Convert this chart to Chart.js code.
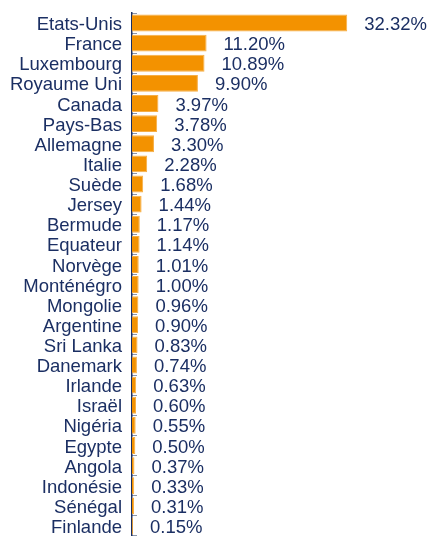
<!DOCTYPE html>
<html>
<head>
<meta charset="utf-8">
<script src="https://cdn.jsdelivr.net/npm/chart.js@4/dist/chart.umd.min.js"></script>
<style>
html,body{margin:0;padding:0;background:#fff;}
#wrap{width:429px;height:536px;position:relative;}
</style>
</head>
<body>
<div id="wrap"><canvas id="c" width="429" height="536"></canvas></div>
<script>
const categories = ["Etats-Unis","France","Luxembourg","Royaume Uni","Canada","Pays-Bas","Allemagne","Italie","Suède","Jersey","Bermude","Equateur","Norvège","Monténégro","Mongolie","Argentine","Sri Lanka","Danemark","Irlande","Israël","Nigéria","Egypte","Angola","Indonésie","Sénégal","Finlande"];
const values = [32.32,11.20,10.89,9.90,3.97,3.78,3.30,2.28,1.68,1.44,1.17,1.14,1.01,1.00,0.96,0.90,0.83,0.74,0.63,0.60,0.55,0.50,0.37,0.33,0.31,0.15];

const navy = '#1B2F63';
const FONT = '"Liberation Sans", Arial, sans-serif';
const FSIZE = 18.5;

const valueLabels = {
  id: 'valueLabels',
  afterDatasetsDraw(chart) {
    const ctx = chart.ctx;
    const meta = chart.getDatasetMeta(0);
    ctx.save();
    ctx.font = FSIZE + 'px ' + FONT;
    ctx.fillStyle = navy;
    ctx.textAlign = 'left';
    ctx.textBaseline = 'middle';
    meta.data.forEach((bar, i) => {
      ctx.fillText(values[i].toFixed(2) + '%', bar.x + 17, bar.y + 2);
    });
    ctx.restore();
  }
};

new Chart(document.getElementById('c'), {
  type: 'bar',
  data: {
    labels: categories,
    datasets: [{
      data: values,
      backgroundColor: '#F39200',
      borderColor: '#F6AE45',
      borderWidth: {top:1,right:1,bottom:1,left:0},
      borderSkipped: 'start',
      barPercentage: 0.84,
      categoryPercentage: 1.0
    }]
  },
  options: {
    indexAxis: 'y',
    responsive: false,
    animation: false,
    devicePixelRatio: 1,
    layout: { padding: { top: 13, right: 0, bottom: 0, left: 0 } },
    plugins: { legend: { display: false }, tooltip: { enabled: false } },
    scales: {
      x: {
        display: false,
        min: 0,
        max: 44.6
      },
      y: {
        position: 'left',
        afterFit(scale) { scale.width = 132; scale.paddingTop = 0; scale.paddingBottom = 0; },
        border: { display: true, color: navy, width: 1.5 },
        grid: {
          display: true,
          drawOnChartArea: false,
          drawTicks: true,
          tickLength: -5,
          color: '#8C96AA',
          offset: true
        },
        ticks: {
          color: navy,
          font: { family: FONT, size: FSIZE },
          padding: 15,
          labelOffset: 2,
          autoSkip: false
        }
      }
    }
  },
  plugins: [valueLabels]
});
</script>
</body>
</html>
